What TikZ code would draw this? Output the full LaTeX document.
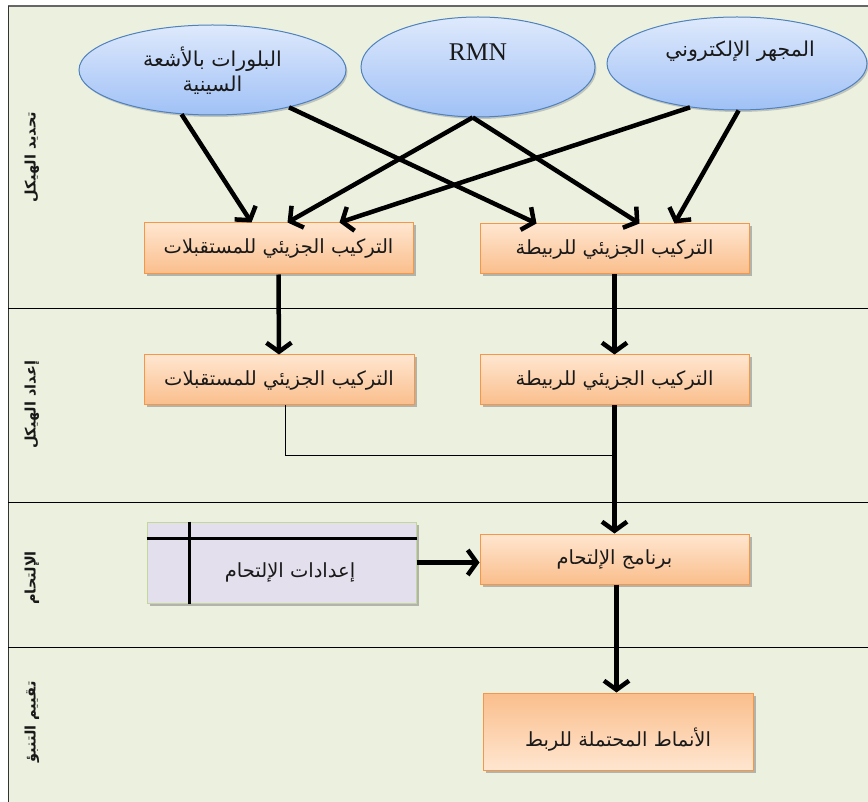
\documentclass[tikz,border=0pt]{standalone}
\usepackage{fontspec}
\newfontfamily\arabicfont[Script=Arabic]{DejaVu Sans}
\newfontfamily\rmnfont{Liberation Serif}
\TeXXeTstate=1
\usetikzlibrary{shapes.geometric,arrows.meta,shadows,calc}
\definecolor{bgreen}{RGB}{235,241,222}
\definecolor{otop}{RGB}{255,230,208}
\definecolor{obot}{RGB}{250,190,140}
\definecolor{oborder}{RGB}{247,150,70}
\definecolor{etop}{RGB}{222,233,252}
\definecolor{ebot}{RGB}{160,193,246}
\definecolor{eborder}{RGB}{79,129,189}
\definecolor{lav}{RGB}{228,223,236}
\definecolor{gborder}{RGB}{195,214,155}
\definecolor{txt}{RGB}{25,25,25}
\tikzset{
  ovalbox/.style={ellipse, draw=eborder, line width=1pt, top color=etop, bottom color=ebot,
    drop shadow={shadow xshift=1.5pt, shadow yshift=-2pt, fill=black!40, opacity=0.5}},
  orangebox/.style={rectangle, draw=oborder, line width=1pt, top color=otop, bottom color=obot,
    text=txt, font=\arabicfont\fontsize{19.5}{22}\selectfont,
    drop shadow={shadow xshift=2.5pt, shadow yshift=-2.5pt, fill=black!45, opacity=0.6}},
  orangeboxrev/.style={orangebox, top color=obot, bottom color=otop},
  storebox/.style={rectangle, draw=gborder, line width=1pt, fill=lav,
    drop shadow={shadow xshift=2.5pt, shadow yshift=-2.5pt, fill=black!45, opacity=0.6}},
  lanelabel/.style={rotate=90, font=\arabicfont\bfseries\fontsize{14.5}{16}\selectfont, text=txt},
  ovaltext/.style={font=\arabicfont\fontsize{20.5}{25}\selectfont, text=txt, align=center},
  boxtext/.style={font=\arabicfont\fontsize{19.5}{22}\selectfont, text=txt},
  flow/.style={line width=4.5pt, -{Straight Barb[length=9pt,width=25pt]}},
  laneline/.style={line width=0.8pt, black},
}
\begin{document}
\begin{tikzpicture}[x=1pt,y=-1pt]
\useasboundingbox (0,0) rectangle (868,802);
\fill[white] (0,0) rectangle (868,802);
\fill[bgreen] (8,6) rectangle (868,802);
\draw[line width=1.2pt, black!60] (8,6) -- (868,6);
\draw[line width=1pt, black!80] (8,6) -- (8,802);
\draw[laneline] (8,308) -- (868,308);
\draw[laneline] (8,502) -- (868,502);
\draw[laneline] (8,647) -- (868,647);

% lane labels
\node[lanelabel] (l1) at (32,157) {\beginR تحديد الهيكل\endR};
\node[lanelabel] (l2) at (32,405) {\beginR إعداد الهيكل\endR};
\node[lanelabel] (l3) at (32,578) {\beginR الإلتحام\endR};
\node[lanelabel] (l4) at (32,722) {\beginR تقييم التنبؤ\endR};

% ellipses
\node[ovalbox, minimum width=267pt, minimum height=90pt, inner sep=0pt] (L) at (212.5,70) {};
\node[ovaltext] (Lt) at (212.5,71) {\beginR البلورات بالأشعة\endR\\\beginR السينية\endR};
\node[ovalbox, minimum width=234pt, minimum height=100pt, inner sep=0pt] (M) at (478,67) {};
\node[font=\rmnfont\fontsize{25.5}{28}\selectfont, text=txt] (Mt) at (478,52) {RMN};
\node[ovalbox, minimum width=260pt, minimum height=93pt, inner sep=0pt] (R) at (737,63.5) {};
\node[ovaltext] (Rt) at (740,51) {\beginR المجهر الإلكتروني\endR};

% boxes
\node[orangebox, minimum width=269pt, minimum height=51pt] (A) at (278.5,248.5) {\beginR التركيب الجزيئي للمستقبلات\endR};
\node[orangebox, minimum width=269pt, minimum height=50pt] (B) at (614.5,249) {\beginR التركيب الجزيئي للربيطة\endR};
\node[orangebox, minimum width=270pt, minimum height=50pt] (C) at (279,380) {\beginR التركيب الجزيئي للمستقبلات\endR};
\node[orangebox, minimum width=269pt, minimum height=50pt] (D) at (614.5,380) {\beginR التركيب الجزيئي للربيطة\endR};
\node[orangebox, minimum width=269pt, minimum height=50pt] (E) at (614.5,559) {\beginR برنامج الإلتحام\endR};
\node[orangeboxrev, minimum width=270pt, minimum height=77pt] (F) at (618,731.5) {};
\node[boxtext] (Ft) at (618,740) {\beginR الأنماط المحتملة للربط\endR};
\node[storebox, minimum width=269pt, minimum height=81pt] (G) at (281.5,562.5) {};
\node[boxtext] (Gt) at (290,572) {\beginR إعدادات الإلتحام\endR};
\draw[line width=2.5pt] ([yshift=-17pt]G.north west) -- ([yshift=-17pt]G.north east);
\draw[line width=2.5pt] ([xshift=43pt]G.north west) -- ([xshift=43pt]G.south west);

% target coordinates
\coordinate (a1) at ($(A.north west)+(108,0)$);
\coordinate (a2) at ($(A.north west)+(144,0)$);
\coordinate (a3) at ($(A.north west)+(196,0)$);
\coordinate (b1) at ($(B.north west)+(57,0)$);
\coordinate (b2) at ($(B.north west)+(160,0)$);
\coordinate (b3) at ($(B.north west)+(195,0)$);

\draw[flow] (L.235) -- (a1);
\draw[flow] (L.-26) -- (b1);
\draw[flow] (M.264) -- (a2);
\draw[flow] (M.264) -- (b2);
\draw[flow] (R.223) -- (a3);
\draw[flow] (R.-88) -- (b3);

\draw[flow] (A.south) -- (C.north);
\draw[flow] (B.south) -- (D.north);
\draw[flow] (D.south) -- (E.north);
\coordinate (j) at (614.5,455);
\draw[line width=0.8pt] ([xshift=6pt]C.south) |- (j);
\draw[flow] (G.east) -- (G.east -| E.west);
\draw[flow] ([xshift=2pt]E.south) -- ([xshift=2pt]E.south |- F.north);
\end{tikzpicture}
\end{document}
